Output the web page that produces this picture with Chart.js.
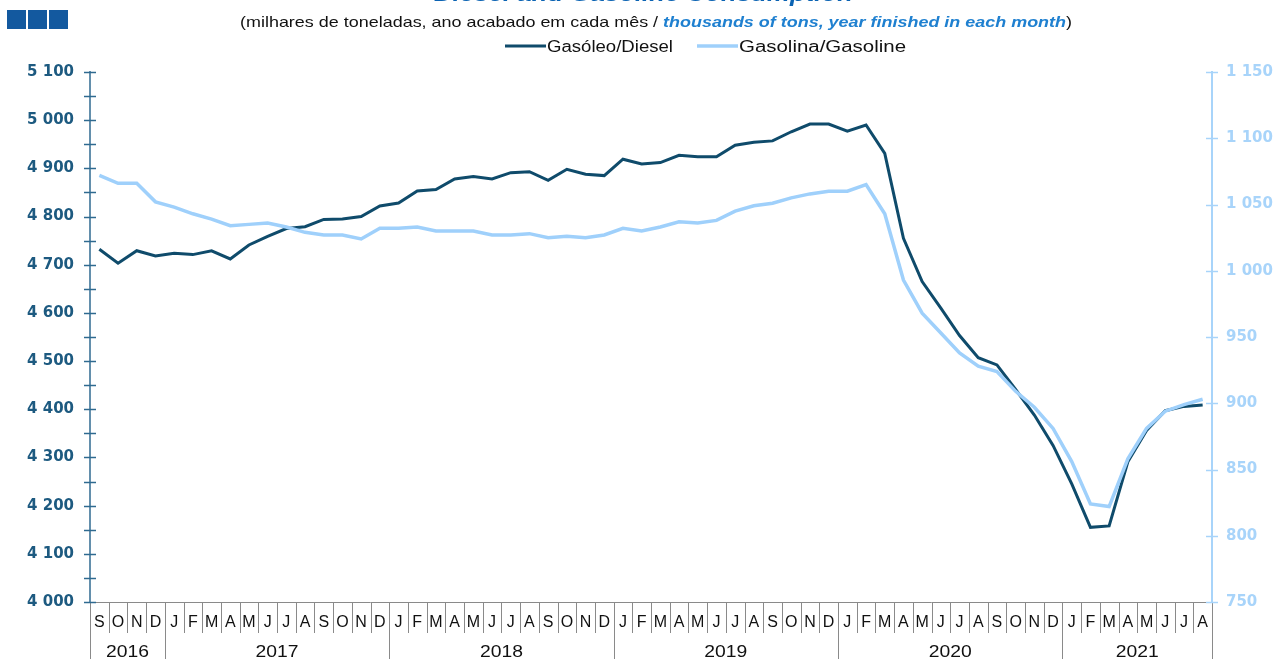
<!DOCTYPE html>
<html>
<head>
<meta charset="utf-8">
<script src="https://cdn.jsdelivr.net/npm/chart.js@4.4.1/dist/chart.umd.min.js"></script>
<style>
  html, body { margin: 0; padding: 0; background: #ffffff; overflow: hidden; }
  #wrap { width: 1279px; height: 659px; position: relative; }
</style>
</head>
<body>
<div id="wrap"><canvas id="c" width="1279" height="659"></canvas></div>
<script>
// Monthly categories, Sep 2016 – Aug 2021 (rolling 12-month totals)
const monthLetters = [
  'S','O','N','D',
  'J','F','M','A','M','J','J','A','S','O','N','D',
  'J','F','M','A','M','J','J','A','S','O','N','D',
  'J','F','M','A','M','J','J','A','S','O','N','D',
  'J','F','M','A','M','J','J','A','S','O','N','D',
  'J','F','M','A','M','J','J','A'
];
const yearLabels = ['2016', '2017', '2018', '2019', '2020', '2021'];
const monthsPerYear = [4, 12, 12, 12, 12, 8];

// Diesel consumption, thousands of tons (left axis)
const diesel = [
  4732, 4703, 4729, 4718,
  4724, 4721, 4729, 4712, 4741, 4759, 4775, 4779, 4794, 4795, 4800, 4822,
  4828, 4853, 4856, 4878, 4883, 4878, 4891, 4893, 4875, 4898, 4888, 4885,
  4919, 4909, 4912, 4927, 4924, 4924, 4948, 4954, 4957, 4976, 4992, 4992,
  4977, 4990, 4931, 4755, 4665, 4610, 4553, 4507, 4492, 4441, 4388, 4325,
  4245, 4155, 4158, 4291, 4356, 4397, 4406, 4409
];
// Gasoline consumption, thousands of tons (right axis)
const gasoline = [
  1072, 1066, 1066, 1052,
  1048, 1043, 1039, 1034, 1035, 1036, 1033, 1029, 1027, 1027, 1024, 1032,
  1032, 1033, 1030, 1030, 1030, 1027, 1027, 1028, 1025, 1026, 1025, 1027,
  1032, 1030, 1033, 1037, 1036, 1038, 1045, 1049, 1051, 1055, 1058, 1060,
  1060, 1065, 1043, 993, 968, 953, 938, 928, 924, 909, 897, 881,
  856, 824, 822, 858, 881, 894, 899, 903
];

const seriesNames = ['Gasóleo/Diesel', 'Gasolina/Gasoline'];
const titleText = 'Diesel and Gasoline Consumption';
const subtitleParts = [
  { text: '(milhares de toneladas, ano acabado em cada mês / ', style: 'plain' },
  { text: 'thousands of tons, year finished in each month', style: 'em' },
  { text: ')', style: 'plain' }
];

const DIESEL = '#0f4b6b';
const GASOLINE = '#9fd0fb';
const LEFT_AXIS = '#2f6a90';
const LEFT_LABEL = '#1d5a80';
const RIGHT_AXIS = '#a8d4fa';
const SEP = '#8a8a8a';
const SANS = '"Liberation Sans", Arial, sans-serif';

function spaced(v) {
  const s = String(Math.round(v));
  return s.length > 3 ? s.slice(0, s.length - 3) + ' ' + s.slice(-3) : s;
}

// draw text squeezed/stretched horizontally to a given width
function fitText(ctx, text, x, y, font, color, width, align) {
  ctx.save();
  ctx.font = font;
  ctx.fillStyle = color;
  ctx.textBaseline = 'alphabetic';
  const w = ctx.measureText(text).width;
  const s = width ? width / w : 1;
  ctx.translate(x, y);
  ctx.scale(s, 1);
  ctx.textAlign = align || 'left';
  ctx.fillText(text, 0, 0);
  ctx.restore();
}

const headerPlugin = {
  id: 'header',
  afterDraw(chart) {
    const ctx = chart.ctx;
    // logo blocks
    ctx.save();
    ctx.fillStyle = '#13599f';
    ctx.fillRect(7, 10, 19, 19);
    ctx.fillRect(28, 10, 19, 19);
    ctx.fillRect(49, 10, 19, 19);
    ctx.restore();

    // title (runs off the top edge of the canvas)
    fitText(ctx, titleText, 643.5, 1, 'bold italic 22px ' + SANS, '#0b63b3', 419, 'center');

    // subtitle in mixed styles
    const fonts = { plain: '15px ' + SANS, em: 'bold italic 15px ' + SANS };
    const colors = { plain: '#111111', em: '#1f80d0' };
    let natural = 0;
    subtitleParts.forEach(p => { ctx.font = fonts[p.style]; p.w = ctx.measureText(p.text).width; natural += p.w; });
    const left = 240, right = 1072;
    const sc = (right - left) / natural;
    let x = left;
    subtitleParts.forEach(p => {
      fitText(ctx, p.text, x, 27, fonts[p.style], colors[p.style], p.w * sc, 'left');
      x += p.w * sc;
    });

    // legend
    ctx.save();
    ctx.lineWidth = 3;
    ctx.strokeStyle = DIESEL;
    ctx.beginPath(); ctx.moveTo(505, 46); ctx.lineTo(546, 46); ctx.stroke();
    ctx.strokeStyle = GASOLINE;
    ctx.lineWidth = 3.5;
    ctx.beginPath(); ctx.moveTo(697, 46); ctx.lineTo(738, 46); ctx.stroke();
    ctx.restore();
    fitText(ctx, seriesNames[0], 547, 52, '16px ' + SANS, '#111111', 126, 'left');
    fitText(ctx, seriesNames[1], 739, 52, '16px ' + SANS, '#111111', 167, 'left');
  }
};

const axesPlugin = {
  id: 'axesDeco',
  afterDatasetsDraw(chart) {
    const ctx = chart.ctx;
    const a = chart.chartArea;
    const xs = chart.scales.x;
    const yl = chart.scales.yL;
    const yr = chart.scales.yR;
    const H = chart.height;
    ctx.save();

    // bottom axis line
    ctx.strokeStyle = SEP;
    ctx.lineWidth = 1;
    ctx.beginPath(); ctx.moveTo(a.left, a.bottom + 0.5); ctx.lineTo(a.right, a.bottom + 0.5); ctx.stroke();

    // month / year separators
    const slot = xs.getPixelForValue(1) - xs.getPixelForValue(0);
    const monthRowBottom = a.bottom + 31;
    let yearStarts = new Set();
    let acc = 0;
    monthsPerYear.forEach(n => { yearStarts.add(acc); acc += n; });
    yearStarts.add(acc);
    for (let i = 0; i <= monthLetters.length; i++) {
      const bx = Math.round(xs.getPixelForValue(0) - slot / 2 + i * slot) + 0.5;
      ctx.beginPath();
      ctx.moveTo(bx, a.bottom);
      ctx.lineTo(bx, yearStarts.has(i) ? H : monthRowBottom);
      ctx.stroke();
    }

    // month letters
    ctx.fillStyle = '#111111';
    ctx.font = '16px ' + SANS;
    ctx.textAlign = 'center';
    ctx.textBaseline = 'middle';
    monthLetters.forEach((m, i) => {
      ctx.fillText(m, xs.getPixelForValue(i), a.bottom + 21);
    });
    // year labels
    acc = 0;
    monthsPerYear.forEach((n, k) => {
      const cx = (xs.getPixelForValue(acc) + xs.getPixelForValue(acc + n - 1)) / 2;
      fitText(ctx, yearLabels[k], cx, a.bottom + 55, '17px ' + SANS, '#111111', 43, 'center');
      acc += n;
    });

    // left axis line with crossing ticks
    ctx.strokeStyle = LEFT_AXIS;
    ctx.lineWidth = 1.5;
    ctx.beginPath(); ctx.moveTo(a.left, a.top - 1); ctx.lineTo(a.left, a.bottom); ctx.stroke();
    yl.ticks.forEach(t => {
      const y = Math.round(yl.getPixelForValue(t.value)) + 0.5;
      ctx.beginPath(); ctx.moveTo(a.left - 6, y); ctx.lineTo(a.left + 6, y); ctx.stroke();
    });

    // right axis line with crossing ticks
    ctx.strokeStyle = RIGHT_AXIS;
    ctx.lineWidth = 2;
    ctx.beginPath(); ctx.moveTo(a.right, a.top - 1); ctx.lineTo(a.right, a.bottom); ctx.stroke();
    ctx.lineWidth = 1.5;
    yr.ticks.forEach(t => {
      const y = Math.round(yr.getPixelForValue(t.value)) + 0.5;
      ctx.beginPath(); ctx.moveTo(a.right - 6, y); ctx.lineTo(a.right + 6, y); ctx.stroke();
    });
    ctx.restore();
  }
};

new Chart(document.getElementById('c'), {
  type: 'line',
  data: {
    labels: monthLetters,
    datasets: [
      {
        label: seriesNames[0],
        data: diesel,
        yAxisID: 'yL',
        borderColor: DIESEL,
        borderWidth: 3,
        pointRadius: 0,
        tension: 0,
        fill: false,
        order: 1
      },
      {
        label: seriesNames[1],
        data: gasoline,
        yAxisID: 'yR',
        borderColor: GASOLINE,
        borderWidth: 3.5,
        pointRadius: 0,
        tension: 0,
        fill: false,
        order: 0
      }
    ]
  },
  options: {
    responsive: false,
    animation: false,
    devicePixelRatio: 1,
    layout: { padding: { top: 72, left: 0, right: 0, bottom: 0 } },
    plugins: {
      legend: { display: false },
      title: { display: false },
      tooltip: { enabled: false }
    },
    scales: {
      x: {
        type: 'category',
        offset: true,
        grid: { display: false, drawTicks: false },
        border: { display: false },
        ticks: { display: false },
        afterFit(s) { s.height = 57; }
      },
      yL: {
        position: 'left',
        min: 4000,
        max: 5100,
        grid: { display: false, drawTicks: false },
        border: { display: false },
        ticks: {
          stepSize: 50,
          autoSkip: false,
          padding: 16,
          color: LEFT_LABEL,
          font: { family: '"DejaVu Sans", sans-serif', size: 15, weight: 'bold' },
          callback: v => (v % 100 === 0 ? spaced(v) : '')
        },
        afterFit(s) { s.width = 90; }
      },
      yR: {
        position: 'right',
        min: 750,
        max: 1150,
        grid: { display: false, drawTicks: false },
        border: { display: false },
        ticks: {
          stepSize: 50,
          autoSkip: false,
          padding: 14,
          color: RIGHT_AXIS,
          font: { family: '"DejaVu Sans", sans-serif', size: 15, weight: 'bold' },
          callback: v => spaced(v)
        },
        afterFit(s) { s.width = 67; }
      }
    }
  },
  plugins: [headerPlugin, axesPlugin]
});
</script>
</body>
</html>
